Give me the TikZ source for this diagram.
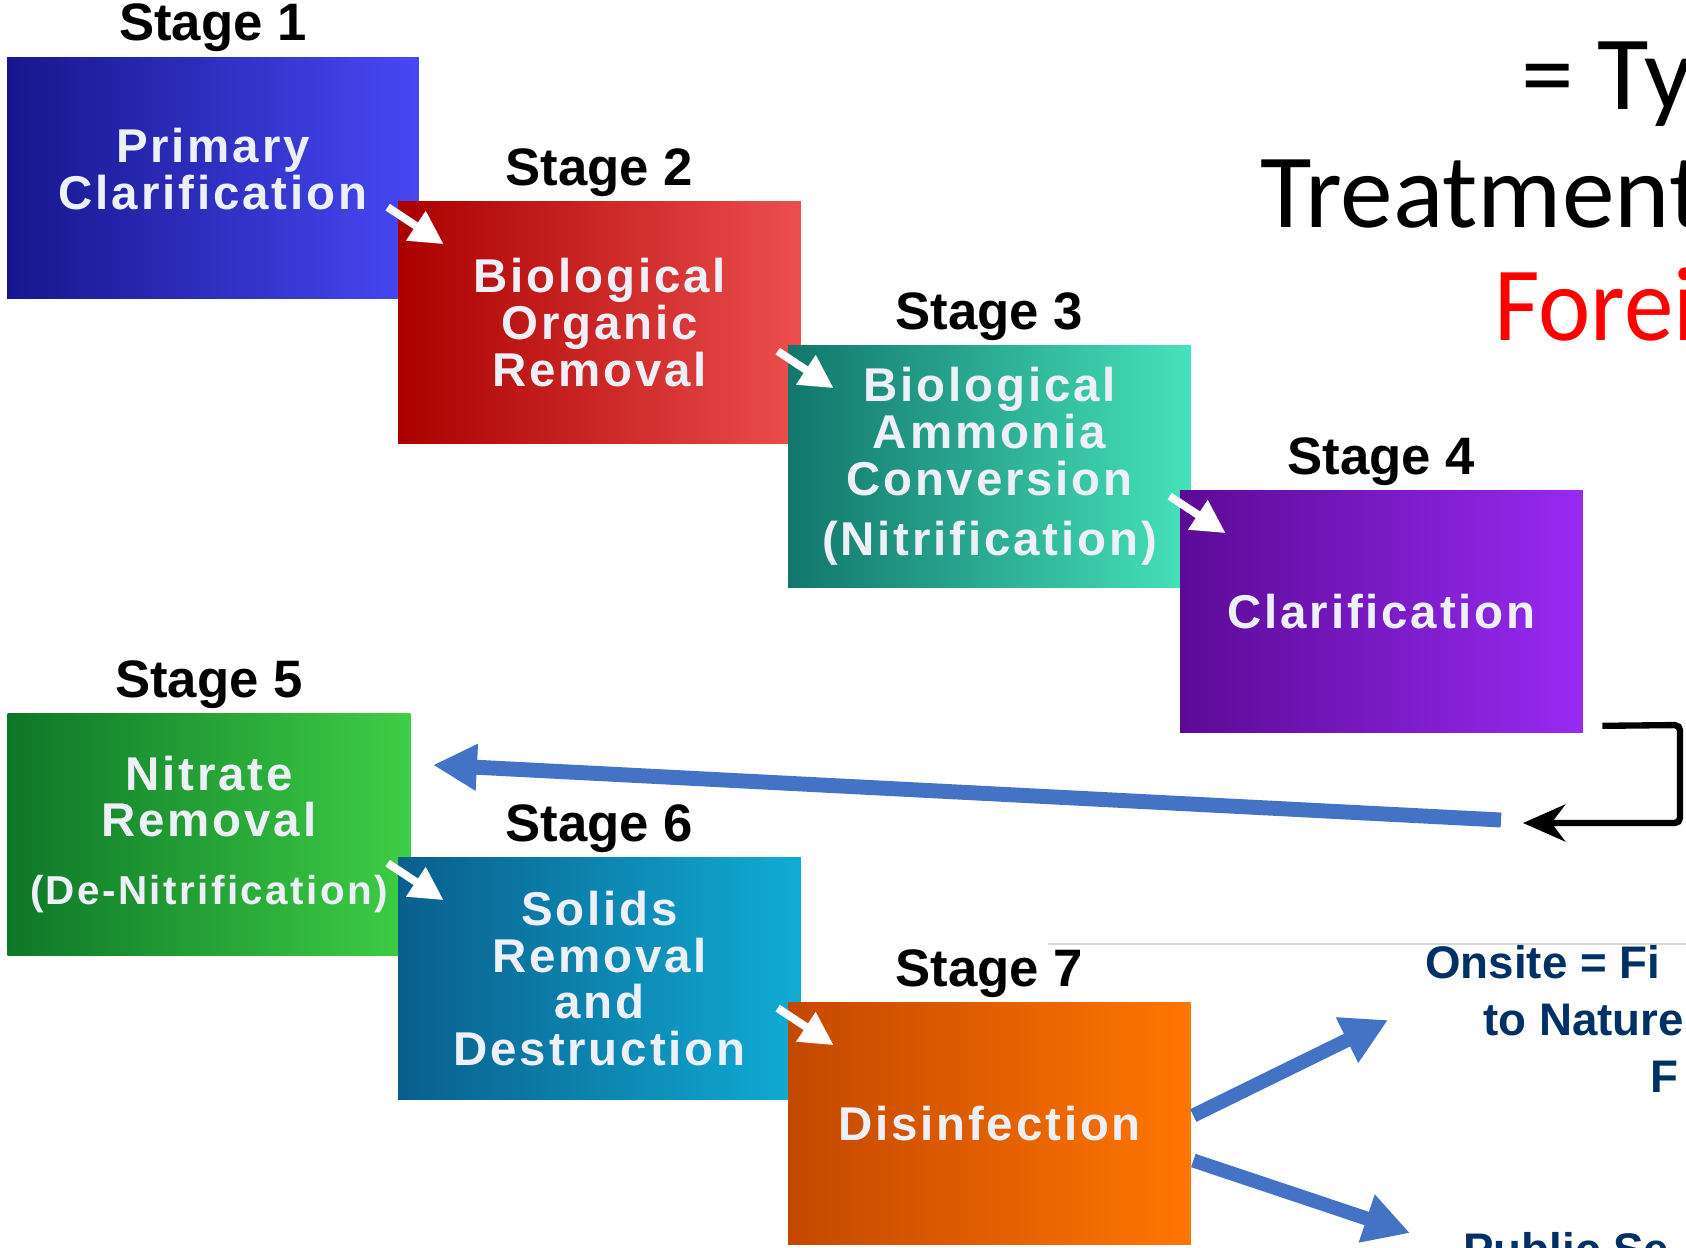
\documentclass[tikz,border=0pt]{standalone}
\usepackage{fontspec}
\setmainfont{Liberation Sans}
\newfontfamily\boxfont{Liberation Sans}[LetterSpace=6]
\newfontfamily\titlefont{Carlito}
\usepackage{tikz}
\usetikzlibrary{arrows.meta,calc}
\definecolor{figblue}{RGB}{68,114,196}
\definecolor{fignavy}{RGB}{0,48,100}
\definecolor{boxtxt}{RGB}{238,240,248}
\definecolor{sAl}{RGB}{22,22,140}
\definecolor{sAr}{RGB}{72,72,245}
\definecolor{sBl}{RGB}{170,0,0}
\definecolor{sBr}{RGB}{236,78,78}
\definecolor{sCl}{RGB}{18,118,108}
\definecolor{sCr}{RGB}{70,226,186}
\definecolor{sDl}{RGB}{92,10,150}
\definecolor{sDr}{RGB}{152,42,242}
\definecolor{sEl}{RGB}{14,118,40}
\definecolor{sEr}{RGB}{62,206,70}
\definecolor{sFl}{RGB}{10,94,140}
\definecolor{sFr}{RGB}{16,172,212}
\definecolor{sGl}{RGB}{196,72,0}
\definecolor{sGr}{RGB}{255,118,0}
\tikzset{
  stg/.style ={minimum width=8.06cm, minimum height=4.84cm, inner sep=0pt, align=center,
               text=boxtxt, font=\boxfont\bfseries\fontsize{27}{26.6}\selectfont},
  lab/.style ={font=\bfseries\fontsize{30}{32}\selectfont, anchor=base, inner sep=0pt},
  wht/.style ={draw=white, line width=4.5pt, -{Triangle[length=19pt,width=19pt]}},
  ptr/.style ={draw=figblue, line width=8pt, -{Triangle[length=26pt,width=27pt]}},
  ret/.style ={draw=black, line width=3.6pt, rounded corners=3pt, -{Stealth[length=24pt,width=21pt]}},
  ttl/.style ={font=\titlefont\fontsize{60}{70}\selectfont, anchor=base west, inner sep=0pt},
  dest/.style={font=\bfseries\fontsize{26}{30}\selectfont, text=fignavy, anchor=base west, inner sep=0pt},
}
\begin{document}
\begin{tikzpicture}[x=0.02cm, y=-0.02cm]
  \path[use as bounding box, clip] (0,0) rectangle (1686,1247);
  \fill[white] (0,0) rectangle (1686,1247);
  \node[stg, minimum width=8.24cm, left color=sAl, right color=sAr] (box1) at (213,178) {};
  \node[stg, minimum width=0pt, minimum height=0pt] (txt1) at ([yshift=5pt]box1.center) {Primary\\Clarification};
  \node[stg, left color=sBl, right color=sBr] (box2) at (599.5,322.5) {Biological\\Organic\\Removal};
  \node[stg, left color=sCl, right color=sCr] (box3) at (989.5,466.5) {Biological\\Ammonia\\Conversion\\[8pt](Nitrification)};
  \node[stg, left color=sDl, right color=sDr] (box4) at (1381.5,611.5) {Clarification};
  \node[stg, left color=sEl, right color=sEr] (box5) at (209,834.5) {Nitrate\\Removal\\[12pt]{\fontsize{23}{24}\selectfont(De-Nitrification)}};
  \node[stg, left color=sFl, right color=sFr] (box6) at (599.5,978.5) {Solids\\Removal\\and\\Destruction};
  \node[stg, left color=sGl, right color=sGr] (box7) at (989.5,1123.5) {Disinfection};
  \foreach \n in {1,...,7}
    \node[lab] (lab\n) at ([yshift=9pt]box\n.north) {Stage \n};
  \foreach \b in {box2,box3,box4,box6,box7}
    \draw[wht] ($(\b.north west)+(-10,6)$) -- ($(\b.north west)+(46,43)$);
  \coordinate (back) at (1501,820);
  \coordinate (nitr) at (433,765);
  \draw[ptr, line width=8.5pt, -{Triangle[length=25pt,width=25pt]}] (back) -- (nitr);
  \coordinate (retend) at (1523,823);
  \draw[ret] ($(box4.south east)+(19,-7)$) -- (1680,725) -- (1680,823) -- (retend);
  \coordinate (onsite) at (1388,1020);
  \coordinate (sewer) at (1410,1233);
  \draw[ptr] ($(box7.east)+(2,-8)$) -- (onsite);
  \draw[ptr] ($(box7.east)+(2,37)$) -- (sewer);
  \node[ttl] (ttl1) at (1521,110) {= Ty};
  \node[ttl] (ttl2) at (1260,227) {Treatment};
  \node[ttl, text=red] (ttl3) at (1494,340) {\scalebox{0.94}[1]{Forei}};
  \draw[gray!30, line width=0.6pt] (1048,944) -- (1686,944);
  \node[dest] (dst1) at (1425,978) {Onsite = Fi};
  \node[dest] (dst2) at (1483,1035) {to Nature};
  \node[dest] (dst3) at (1650,1092) {F};
  \node[dest] (dst4) at (1463,1265) {Public Se};
\end{tikzpicture}
\end{document}
